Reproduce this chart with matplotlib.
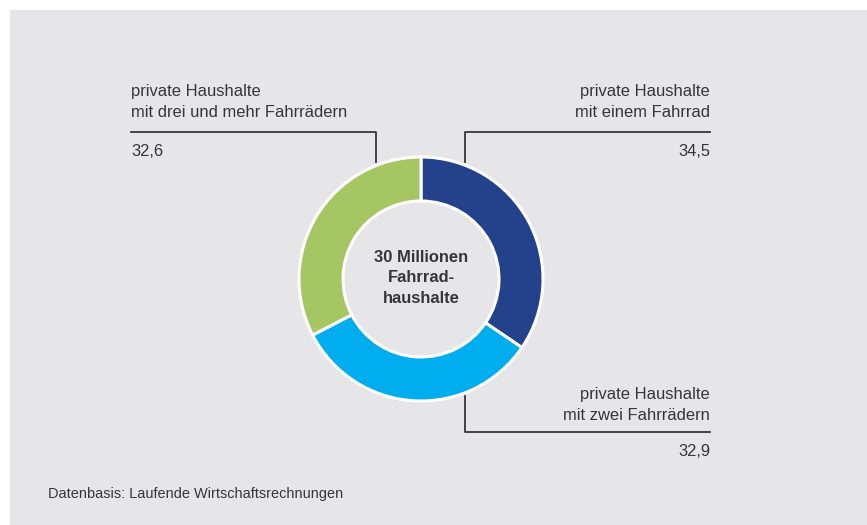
import matplotlib
matplotlib.use("Agg")
import matplotlib.pyplot as plt
from matplotlib.patches import Rectangle

# Household shares (percent) by number of bicycles
categories = [
    "private Haushalte\nmit einem Fahrrad",
    "private Haushalte\nmit zwei Fahrrädern",
    "private Haushalte\nmit drei und mehr Fahrrädern",
]
shares = [34.5, 32.9, 32.6]
value_labels = ["34,5", "32,9", "32,6"]
colors = ["#24418c", "#00adef", "#a6c563"]
center_text = "30 Millionen\nFahrrad-\nhaushalte"
source_text = "Datenbasis: Laufende Wirtschaftsrechnungen"

W, H = 867, 525
plt.rcParams["font.family"] = ["Liberation Sans", "DejaVu Sans"]
text_color = "#363636"
fs = 11.9

fig = plt.figure(figsize=(W / 100, H / 100), dpi=100, facecolor="white")
ax = fig.add_axes([0, 0, 1, 1])

# donut (y measured from the bottom)
cx, cy = 421, H - 279
r_out, width = 122, 44
ax.pie(shares, colors=colors, startangle=90, counterclock=False,
       center=(cx, cy), radius=r_out, frame=True,
       wedgeprops=dict(width=width, edgecolor="white", linewidth=2.2))
ax.set_xlim(0, W)
ax.set_ylim(0, H)
ax.set_aspect("equal")
ax.axis("off")

# gray panel
ax.add_patch(Rectangle((10, 0), W - 10, H - 10, facecolor="#e6e6e8",
                       edgecolor="none", zorder=-5))

ax.text(cx, cy + 1, center_text, ha="center", va="center", fontsize=11.9,
        fontweight="bold", color=text_color, linespacing=1.42)

lw = 1.3
# upper left label (3+ bicycles)
ax.plot([131, 376, 376], [H - 132, H - 132, H - 162], color=text_color, lw=lw)
ax.text(131, H - 102, categories[2], ha="left", va="center", fontsize=fs,
        color=text_color, linespacing=1.42)
ax.text(131, H - 152, value_labels[2], ha="left", va="center", fontsize=fs,
        color=text_color)

# upper right label (1 bicycle)
ax.plot([710, 465, 465], [H - 132, H - 132, H - 162], color=text_color, lw=lw)
ax.text(710, H - 102, categories[0], ha="right", va="center", fontsize=fs,
        color=text_color, linespacing=1.42)
ax.text(710, H - 152, value_labels[0], ha="right", va="center", fontsize=fs,
        color=text_color)

# lower right label (2 bicycles)
ax.plot([465, 465, 710], [H - 396, H - 432, H - 432], color=text_color, lw=lw)
ax.text(710, H - 405, categories[1], ha="right", va="center", fontsize=fs,
        color=text_color, linespacing=1.42)
ax.text(710, H - 452, value_labels[1], ha="right", va="center", fontsize=fs,
        color=text_color)

ax.text(48, H - 494, source_text, ha="left", va="center", fontsize=10.45,
        color=text_color)

fig.savefig("out.png", dpi=100, facecolor="white")
